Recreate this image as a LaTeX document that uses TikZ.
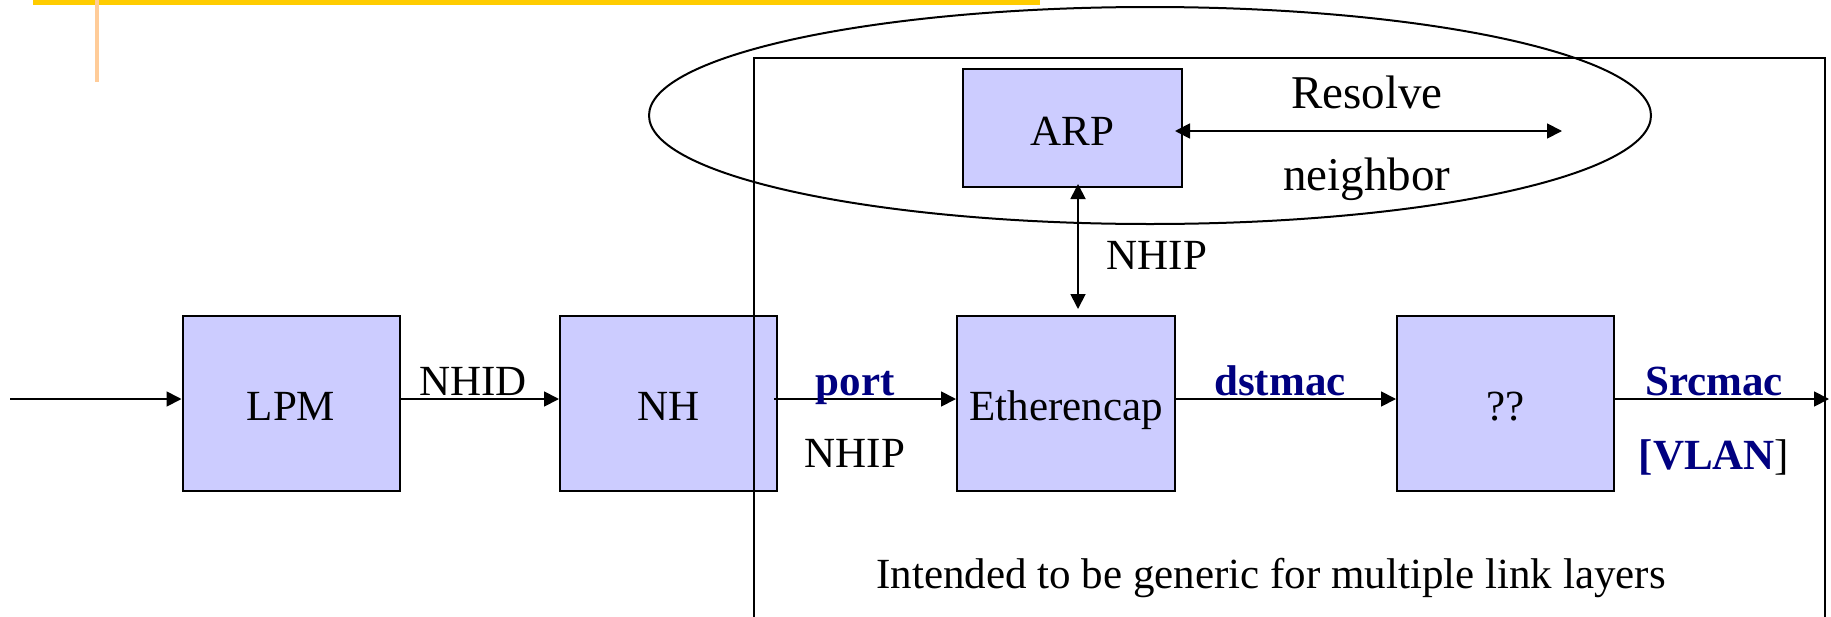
\documentclass[tikz,border=0pt]{standalone}
\usepackage{fontspec}
\setmainfont{Liberation Serif}
\usetikzlibrary{arrows.meta}
\definecolor{boxfill}{HTML}{CCCCFF}
\definecolor{navy}{HTML}{000080}
\definecolor{baryellow}{HTML}{FFCC00}
\definecolor{barorange}{HTML}{FFCC99}
\tikzset{
  blk/.style={draw, line width=2pt, fill=boxfill, inner sep=0pt,
    text height=34pt, text depth=0pt,
    font=\fontsize{43}{50}\selectfont},
  lbl/.style={inner sep=0pt, anchor=base, font=\fontsize{43}{50}\selectfont},
  blbl/.style={lbl, text=navy, font=\fontsize{43}{50}\selectfont\bfseries},
  biglbl/.style={inner sep=0pt, anchor=base, font=\fontsize{47}{54}\selectfont},
  arr/.style={line width=1.8pt, -{Triangle[length=15pt,width=15pt]}},
  darr/.style={line width=1.8pt, {Triangle[length=15pt,width=15pt]}-{Triangle[length=15pt,width=15pt]}},
  thin/.style={line width=2pt}
}
\begin{document}
\begin{tikzpicture}[x=1pt,y=-1pt]
\useasboundingbox (0,0) rectangle (1831,616);
\clip (0,0) rectangle (1831,616);
% header decoration
\fill[baryellow] (33,0) rectangle (1040,5);
\draw[barorange, line width=4pt] (97,0) -- (97,82);
% blocks
\node[blk, minimum width=217pt, minimum height=175pt] (LPM) at (291,403.5) {LPM};
\node[blk, minimum width=217pt, minimum height=175pt] (NH) at (668.5,403.5) {NH};
\node[blk, minimum width=218pt, minimum height=175pt] (ETH) at (1066,403.5) {Etherencap};
\node[blk, minimum width=217pt, minimum height=175pt] (QQ) at (1505.5,403.5) {??};
\node[blk, minimum width=219pt, minimum height=118pt] (ARP) at (1072.5,128) {ARP};
% helper coordinates
\coordinate (in) at (10,399);
\coordinate (out) at (1829,399);
\coordinate (vx) at (1078,0);
\coordinate (rn) at (1562,131);
% main flow
\draw[arr] (in) -- (in -| LPM.west);
\draw[arr] (LPM.east |- in) -- (NH.west |- in);
\draw[arr] ([xshift=-4pt]NH.east |- in) -- (ETH.west |- in);
\draw[arr] (ETH.east |- in) -- (QQ.west |- in);
\draw[arr] (QQ.east |- in) -- (out);
% ARP links
\draw[darr] ([yshift=4pt]ARP.south -| vx) -- ([yshift=6pt]ETH.north -| vx);
\draw[darr] ([xshift=-8pt]ARP.east |- rn) -- (rn);
% frame and ellipse
\draw[thin] (754,620) -- (754,58) -- (1825,58) -- (1825,620);
\draw[thin] (1150,115.5) ellipse [x radius=501pt, y radius=108.5pt];
% labels
\node[lbl] (nhid) at (473,395) {NHID};
\node[blbl] (port) at (855,395) {port};
\node[lbl] (nhip1) at (855,467) {NHIP};
\node[blbl] (dst) at (1280,395) {dstmac};
\node[blbl] (src) at (1714,395) {Srcmac};
\node[lbl] (vlan) at (1714,469) {\textcolor{navy}{\bfseries[VLAN}]};
\node[lbl] (nhip2) at (1157,269) {NHIP};
\node[biglbl] (res) at (1367,108) {Resolve};
\node[biglbl] (nei) at (1367,190) {neighbor};
\node[lbl] (gen) at (1271,588) {Intended to be generic for multiple link layers};
\end{tikzpicture}
\end{document}
